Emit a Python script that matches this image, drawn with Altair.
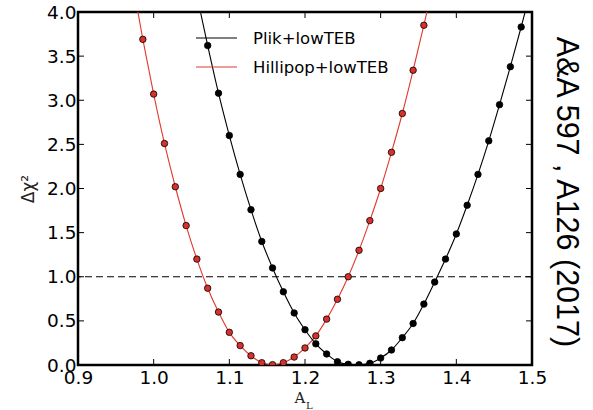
import altair as alt
import pandas as pd

# ---- data ----
series_names = ["Plik+lowTEB", "Hillipop+lowTEB"]
series_colors = ["#000000", "#e0392e"]

plik_x = [1.0571, 1.0714, 1.0857, 1.1000, 1.1143, 1.1286, 1.1429, 1.1571, 1.1714, 1.1857,
          1.2000, 1.2143, 1.2286, 1.2429, 1.2571, 1.2714, 1.2857, 1.3000, 1.3143, 1.3286,
          1.3429, 1.3571, 1.3714, 1.3857, 1.4000, 1.4143, 1.4286, 1.4429, 1.4571, 1.4714,
          1.4857, 1.5000]
plik_y = [4.19, 3.62, 3.08, 2.60, 2.16, 1.76, 1.40, 1.10, 0.83, 0.59,
          0.40, 0.24, 0.125, 0.037, 0.008, 0.003, 0.019, 0.079, 0.17, 0.31,
          0.47, 0.69, 0.94, 1.20, 1.485, 1.81, 2.16, 2.54, 2.95, 3.38,
          3.83, 4.30]
plik_marker = [False] + [True] * 30 + [False]

hilli_x = [0.9714, 0.9857, 1.0000, 1.0143, 1.0286, 1.0429, 1.0571, 1.0714, 1.0857, 1.1000,
           1.1143, 1.1286, 1.1429, 1.1571, 1.1714, 1.1857, 1.2000, 1.2143, 1.2286, 1.2429,
           1.2571, 1.2714, 1.2857, 1.3000, 1.3143, 1.3286, 1.3429, 1.3571, 1.3714]
hilli_y = [4.37, 3.69, 3.07, 2.51, 2.02, 1.58, 1.20, 0.87, 0.60, 0.37,
           0.22, 0.105, 0.026, 0.004, 0.026, 0.09, 0.193, 0.33, 0.52, 0.745,
           1.00, 1.30, 1.636, 2.00, 2.41, 2.85, 3.34, 3.85, 4.38]
hilli_marker = [False] + [True] * 27 + [False]

x_ticks = [0.9, 1.0, 1.1, 1.2, 1.3, 1.4, 1.5]
y_ticks = [0.0, 0.5, 1.0, 1.5, 2.0, 2.5, 3.0, 3.5, 4.0]
threshold = [1.0]
side_text = "A&A 597 , A126 (2017)"

W, H = 454, 353
FONT = "DejaVu Sans"

plik = pd.DataFrame({"x": plik_x, "y": plik_y, "m": plik_marker})
hilli = pd.DataFrame({"x": hilli_x, "y": hilli_y, "m": hilli_marker})
xt = pd.DataFrame({"v": x_ticks})
yt = pd.DataFrame({"v": y_ticks})

xs = alt.Scale(domain=[0.9, 1.5], nice=False, zero=False)
ys = alt.Scale(domain=[0.0, 4.0], nice=False, zero=False)

xaxis = alt.Axis(values=x_ticks, format=".1f", ticks=False, domain=False, grid=False,
                 labelFont=FONT, labelFontSize=18.5, labelColor="black", labelPadding=3,
                 labelFlush=False, labelOverlap=False, labelBound=False, title=None)
yaxis = alt.Axis(values=y_ticks, format=".1f", ticks=False, domain=False, grid=False,
                 labelFont=FONT, labelFontSize=18.5, labelColor="black", labelPadding=2,
                 labelFlush=False, labelOverlap=False, labelBound=False,
                 title="Δχ²", titleFont=FONT, titleFontSize=17, titleFontWeight="normal",
                 titleColor="#222", titlePadding=9)

base_enc = dict(
    x=alt.X("x:Q", scale=xs, axis=xaxis),
    y=alt.Y("y:Q", scale=ys, axis=yaxis),
)

def curve(df, color, fill):
    line = alt.Chart(df).mark_line(color=color, strokeWidth=1.1, clip=True,
                                   interpolate="monotone").encode(**base_enc)
    pts = alt.Chart(df).transform_filter("datum.m").mark_point(
        shape="circle", filled=True, fill=fill, stroke="black", strokeWidth=0.8,
        size=42, opacity=1, clip=True).encode(x=alt.X("x:Q", scale=xs), y=alt.Y("y:Q", scale=ys))
    return line, pts

pl_line, pl_pts = curve(plik, series_colors[0], "#000000")
hi_line, hi_pts = curve(hilli, series_colors[1], "#d8302a")

dash = alt.Chart(pd.DataFrame({"y": threshold})).mark_rule(
    color="black", strokeDash=[7, 4], strokeWidth=1).encode(y=alt.Y("y:Q", scale=ys))

# inward ticks on all four sides
tk = 6
bt = alt.Chart(xt).mark_rule(color="black", strokeWidth=1).encode(
    x=alt.X("v:Q", scale=xs), y=alt.value(H), y2=alt.value(H - tk))
tt = alt.Chart(xt).mark_rule(color="black", strokeWidth=1).encode(
    x=alt.X("v:Q", scale=xs), y=alt.value(0), y2=alt.value(tk))
lt = alt.Chart(yt).mark_rule(color="black", strokeWidth=1).encode(
    y=alt.Y("v:Q", scale=ys), x=alt.value(0), x2=alt.value(tk))
rt = alt.Chart(yt).mark_rule(color="black", strokeWidth=1).encode(
    y=alt.Y("v:Q", scale=ys), x=alt.value(W), x2=alt.value(W - tk))

# legend (manual, line-only entries)
leg = []
for i, (name, col) in enumerate(zip(series_names, series_colors)):
    yy = 26 + i * 29
    leg.append(alt.Chart(pd.DataFrame({"n": [name]})).mark_rule(color=col, strokeWidth=1).encode(
        x=alt.value(118), x2=alt.value(159), y=alt.value(yy)))
    leg.append(alt.Chart(pd.DataFrame({"n": [name]})).mark_text(
        align="left", baseline="middle", font=FONT, fontSize=16.5, color="black").encode(
        x=alt.value(175), y=alt.value(yy + 1), text="n:N"))

# x-axis title A_L
xtA = alt.Chart(pd.DataFrame({"t": ["A"]})).mark_text(
    align="center", baseline="alphabetic", font="DejaVu Serif", fontSize=15, color="#222").encode(
    x=alt.value(222), y=alt.value(391), text="t:N")
xtL = alt.Chart(pd.DataFrame({"t": ["L"]})).mark_text(
    align="left", baseline="alphabetic", font="DejaVu Serif", fontSize=10, color="#222").encode(
    x=alt.value(228), y=alt.value(397), text="t:N")

side = alt.Chart(pd.DataFrame({"t": [side_text]})).mark_text(
    align="center", baseline="middle", angle=90, font="Liberation Sans", fontSize=30.5,
    color="black").encode(x=alt.value(488), y=alt.value(180), text="t:N")

chart = alt.layer(
    dash, hi_line, pl_line, hi_pts, pl_pts, bt, tt, lt, rt, *leg, xtA, xtL, side
).properties(
    width=W, height=H,
    autosize=alt.AutoSizeParams(type="none"),
    padding={"left": 78, "top": 12, "right": 61, "bottom": 45},
    background="white",
).configure_view(stroke="black", strokeWidth=2.5)

chart.save("out.html", embed_options={"renderer": "svg", "actions": False})
